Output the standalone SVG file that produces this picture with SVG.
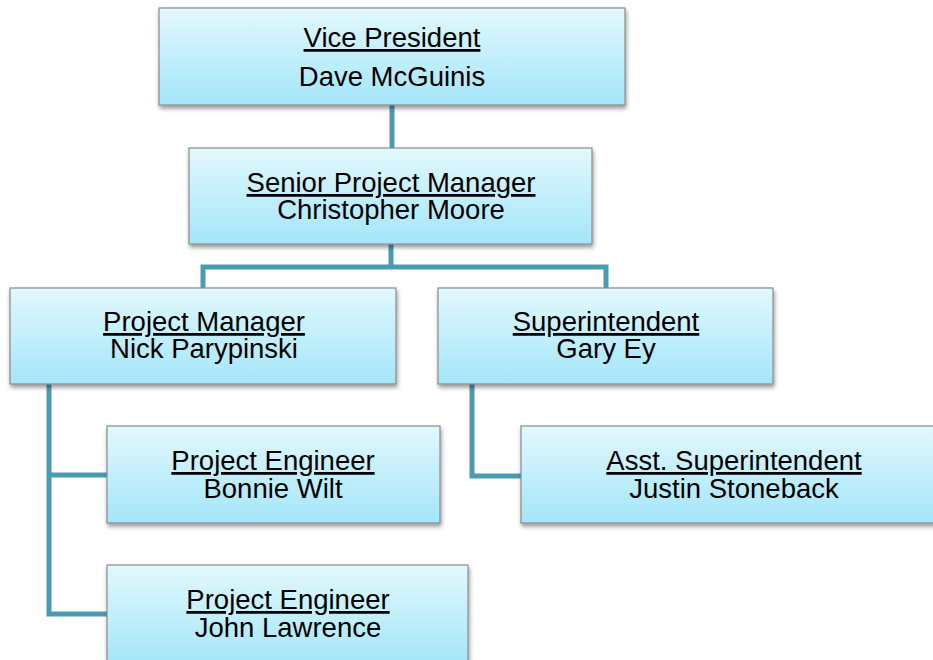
<svg xmlns="http://www.w3.org/2000/svg" width="933" height="660" viewBox="0 0 933 660">
<defs>
<linearGradient id="g" x1="0" y1="0" x2="0" y2="1">
<stop offset="0" stop-color="#e2f8fd"/>
<stop offset="1" stop-color="#a3e6fa"/>
</linearGradient>
<filter id="sh" x="-10%" y="-10%" width="120%" height="130%">
<feDropShadow dx="1" dy="3" stdDeviation="2" flood-color="#000" flood-opacity="0.4"/>
</filter>
</defs>
<style>
.box{fill:url(#g);stroke:#8a8a8a;stroke-width:1.2;filter:url(#sh)}
text{font-family:"Liberation Sans",Arial,sans-serif;font-size:27.5px;fill:#000;text-anchor:middle}
.t{text-decoration:underline}
.c{fill:none;stroke:#4a9bb2;stroke-width:5;stroke-linejoin:miter}
</style>
<g id="connectors">
<path class="c" d="M392,105 V148"/>
<path class="c" d="M391,244 V267 M203,288 V267 H606 V288"/>
<path class="c" d="M49,384 V614 H107 M49,475 H107"/>
<path class="c" d="M472,384 V476 H521"/>
</g>
<g id="vp">
<rect class="box" x="159" y="8" width="466" height="97"/>
<text class="t" x="392" y="47">Vice President</text>
<text x="392" y="86">Dave McGuinis</text>
</g>
<g id="spm">
<rect class="box" x="189" y="148" width="403" height="96"/>
<text class="t" x="391" y="192">Senior Project Manager</text>
<text x="391" y="219">Christopher Moore</text>
</g>
<g id="pm">
<rect class="box" x="10" y="288" width="386" height="96"/>
<text class="t" x="204" y="331">Project Manager</text>
<text x="204" y="358">Nick Parypinski</text>
</g>
<g id="super">
<rect class="box" x="438" y="288" width="335" height="96"/>
<text class="t" x="606" y="331">Superintendent</text>
<text x="606" y="358">Gary Ey</text>
</g>
<g id="pe1">
<rect class="box" x="107" y="426" width="333" height="97"/>
<text class="t" x="273" y="470">Project Engineer</text>
<text x="273" y="498">Bonnie Wilt</text>
</g>
<g id="pe2">
<rect class="box" x="107" y="565" width="361" height="100"/>
<text class="t" x="288" y="609">Project Engineer</text>
<text x="288" y="637">John Lawrence</text>
</g>
<g id="asst">
<rect class="box" x="521" y="426" width="426" height="97"/>
<text class="t" x="734" y="470">Asst. Superintendent</text>
<text x="734" y="498">Justin Stoneback</text>
</g>
</svg>
